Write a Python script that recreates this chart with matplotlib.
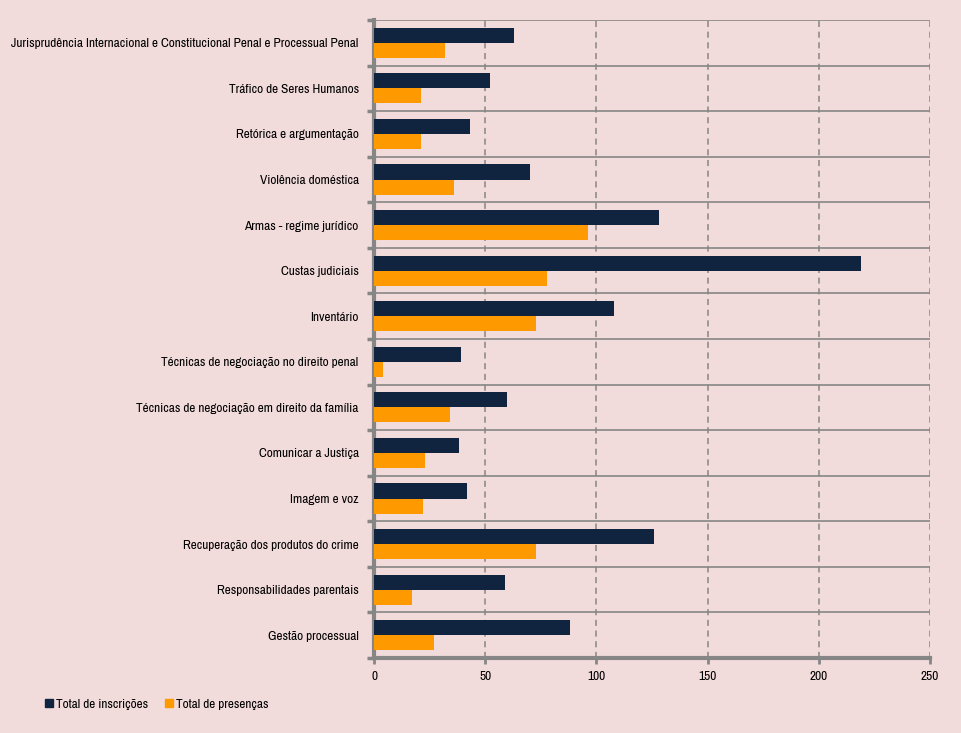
import numpy as np
import matplotlib.pyplot as plt
from matplotlib.patches import Patch

# Course names (top to bottom) and counts
cursos = [
    'Jurisprudência Internacional e Constitucional Penal e Processual Penal',
    'Tráfico de Seres Humanos',
    'Retórica e argumentação',
    'Violência doméstica',
    'Armas - regime jurídico',
    'Custas judiciais',
    'Inventário',
    'Técnicas de negociação no direito penal',
    'Técnicas de negociação em direito da família',
    'Comunicar a Justiça',
    'Imagem e voz',
    'Recuperação dos produtos do crime',
    'Responsabilidades parentais',
    'Gestão processual',
]
inscricoes = [63, 52, 43, 70, 128, 219, 108, 39, 60, 38, 42, 126, 59, 88]
presencas = [32, 21, 21, 36, 96, 78, 73, 4, 34, 23, 22, 73, 17, 27]
xticks = [0, 50, 100, 150, 200, 250]

bg = '#F2DCDB'
navy = '#10243F'
orange = '#FF9900'
grey = '#868686'

plt.rcParams['font.family'] = ['Archivo Narrow', 'DejaVu Sans']
fs = 9.6

fig = plt.figure(figsize=(9.62, 7.33), dpi=100, facecolor=bg)
ax = fig.add_axes([374 / 962, 1 - 658 / 733, (930 - 374) / 962, (658 - 20) / 733])
ax.set_facecolor(bg)

y = np.arange(len(cursos))
h = 0.33
ax.barh(y - h / 2, inscricoes, height=h, color=navy, zorder=3)
ax.barh(y + h / 2, presencas, height=h, color=orange, zorder=3)

ax.set_xlim(0, 250)
ax.set_ylim(len(cursos) - 0.5, -0.5)
ax.set_xticks(xticks)
ax.set_xticklabels([str(t) for t in xticks], fontsize=fs, weight='medium')

ax.set_yticks(y)
ax.set_yticklabels(cursos, fontsize=fs, weight='medium')
ax.tick_params(axis='y', which='major', length=0, pad=11)
ax.set_yticks(np.arange(len(cursos) + 1) - 0.5, minor=True)
ax.tick_params(axis='y', which='minor', length=5, width=2.5, color=grey)
ax.tick_params(axis='x', length=4, width=2, color=grey, pad=5)

ax.grid(axis='y', which='minor', color=grey, linewidth=1.2, zorder=0)
ax.grid(axis='x', which='major', color=grey, linestyle=(0, (4, 3)), linewidth=1.1, zorder=0)
ax.grid(axis='y', which='major', visible=False)

for s in ['top', 'right']:
    ax.spines[s].set_visible(False)
for s in ['left', 'bottom']:
    ax.spines[s].set_color(grey)
    ax.spines[s].set_linewidth(3)

handles = [Patch(color=navy, label='Total de inscrições'),
           Patch(color=orange, label='Total de presenças')]
fig.legend(handles=handles, loc='center left', bbox_to_anchor=(33 / 962, 1 - 704 / 733),
           ncol=2, frameon=False, prop={'size': fs, 'weight': 'medium'},
           handlelength=0.6, handleheight=0.6, handletextpad=0.2, columnspacing=1.3)

fig.savefig('out.png', dpi=100, facecolor=bg)
